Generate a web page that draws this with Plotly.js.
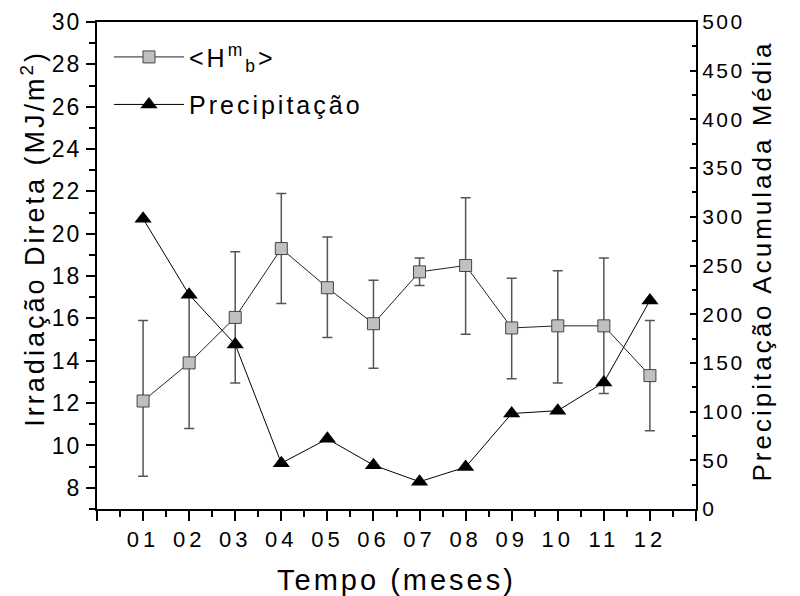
<!DOCTYPE html>
<html>
<head>
<meta charset="utf-8">
<script src="https://cdn.plot.ly/plotly-3.0.1.min.js"></script>
<style>
  html, body { margin: 0; padding: 0; background: #fff; }
  #chart { width: 800px; height: 596px; }
  .xtick text { letter-spacing: 4px; }
  .ytick text { letter-spacing: 2px; }
  .y2tick text { letter-spacing: 2.5px; }
  text.xtitle { letter-spacing: 3px; }
  text.legendtext { letter-spacing: 3px; }
  .ytitle-ann text.annotation-text { letter-spacing: 3px; }
</style>
</head>
<body>
<div id="chart"></div>
<script>
// Months (x positions) and tick labels
const months = [1, 2, 3, 4, 5, 6, 7, 8, 9, 10, 11, 12];
const tickVals = [0, 1, 2, 3, 4, 5, 6, 7, 8, 9, 10, 11, 12, 13];
const tickText = ['', '01', '02', '03', '04', '05', '06', '07', '08', '09', '10', '11', '12', ''];

// Axis titles
const xTitle = 'Tempo (meses)';
const yTitle = 'Irradiação Direta (MJ/m<sup>2</sup>)';
const y2Title = 'Precipitação Acumulada Média';

// <H^m_b> mean direct irradiation (MJ/m^2) with error bar limits
const hMean  = [12.1, 13.9, 16.05, 19.3, 17.45, 15.75, 18.2, 18.5, 15.55, 15.65, 15.65, 13.3];
const hUpper = [15.9, 17.0, 19.15, 21.9, 19.85, 17.8, 18.85, 21.7, 17.9, 18.25, 18.85, 15.9];
const hLower = [8.55, 10.8, 12.95, 16.7, 15.1, 13.65, 17.55, 15.25, 13.15, 12.95, 12.45, 10.7];

// Mean accumulated precipitation (right axis)
const precip = [298, 220, 169, 47, 72, 45, 28, 43, 98, 101, 130, 214];

const errPlus = hUpper.map((u, i) => u - hMean[i]);
const errMinus = hLower.map((l, i) => hMean[i] - l);

const font = "'Liberation Sans', Arial, sans-serif";

const traceH = {
  x: months, y: hMean, type: 'scatter', mode: 'lines+markers',
  name: '&lt;H<sup>m</sup><sub>b</sub>&gt;',
  legendgroup: 'a',
  line: { color: '#222', width: 1 },
  marker: { symbol: 'square', size: 12, color: '#c0c0c0', line: { color: '#444', width: 1 } },
  error_y: { type: 'data', symmetric: false, array: errPlus, arrayminus: errMinus,
             color: '#555', thickness: 1.5, width: 5 },
  yaxis: 'y'
};

const traceP = {
  x: months, y: precip, type: 'scatter', mode: 'lines+markers',
  name: 'Precipitação',
  legendgroup: 'b',
  line: { color: '#000', width: 1 },
  marker: { symbol: 'triangle-up', size: 15, color: '#000' },
  yaxis: 'y2'
};

const layout = {
  width: 800, height: 596,
  paper_bgcolor: '#fff', plot_bgcolor: '#fff',
  margin: { l: 97, r: 104, t: 22, b: 87 },
  font: { family: font, color: '#000', size: 21 },
  showlegend: true,
  legend: {
    x: 0.02, y: 0.975, xanchor: 'left', yanchor: 'top',
    bgcolor: 'rgba(0,0,0,0)', borderwidth: 0,
    font: { family: font, size: 25, color: '#000' },
    itemwidth: 70,
    traceorder: 'grouped', tracegroupgap: 12
  },
  xaxis: {
    range: [0, 13], tickmode: 'array', tickvals: tickVals, ticktext: tickText,
    showgrid: false, zeroline: false,
    showline: true, linecolor: '#000', linewidth: 2, mirror: true,
    ticks: 'outside', ticklen: 10, tickwidth: 2, tickcolor: '#000',
    minor: { dtick: 0.5, tick0: 0, ticks: 'outside', ticklen: 6, tickwidth: 2, tickcolor: '#000' },
    tickfont: { family: font, size: 22 },
    title: { text: xTitle, font: { family: font, size: 29 }, standoff: 18 }
  },
  yaxis: {
    range: [7, 30], tickmode: 'linear', tick0: 0, dtick: 2,
    showgrid: false, zeroline: false,
    showline: true, linecolor: '#000', linewidth: 2,
    ticks: 'outside', ticklen: 9, tickwidth: 2, tickcolor: '#000',
    minor: { dtick: 1, tick0: 0, ticks: 'outside', ticklen: 6, tickwidth: 2, tickcolor: '#000' },
    tickfont: { family: font, size: 23 }
  },
  yaxis2: {
    range: [0, 500], tickmode: 'linear', tick0: 0, dtick: 50,
    overlaying: 'y', side: 'right', anchor: 'x',
    showgrid: false, zeroline: false,
    showline: true, linecolor: '#000', linewidth: 2,
    ticks: 'inside', ticklen: 6, tickwidth: 2, tickcolor: '#000',
    minor: { dtick: 25, tick0: 0, ticks: 'inside', ticklen: 4, tickwidth: 2, tickcolor: '#000' },
    tickfont: { family: font, size: 21 }
  },
  annotations: [
    { text: yTitle, xref: 'paper', yref: 'paper', x: -0.107, y: 0.556,
      xanchor: 'center', yanchor: 'middle', textangle: -90, showarrow: false,
      font: { family: font, size: 27, color: '#000' } },
    { text: y2Title, xref: 'paper', yref: 'paper', x: 1.110, y: 0.51,
      xanchor: 'center', yanchor: 'middle', textangle: -90, showarrow: false,
      font: { family: font, size: 26, color: '#000' } }
  ]
};

Plotly.newPlot('chart', [traceH, traceP], layout, { displayModeBar: false, staticPlot: true }).then(() => {
  document.querySelectorAll('#chart .annotation').forEach(g => g.classList.add('ytitle-ann'));
});
</script>
</body>
</html>
